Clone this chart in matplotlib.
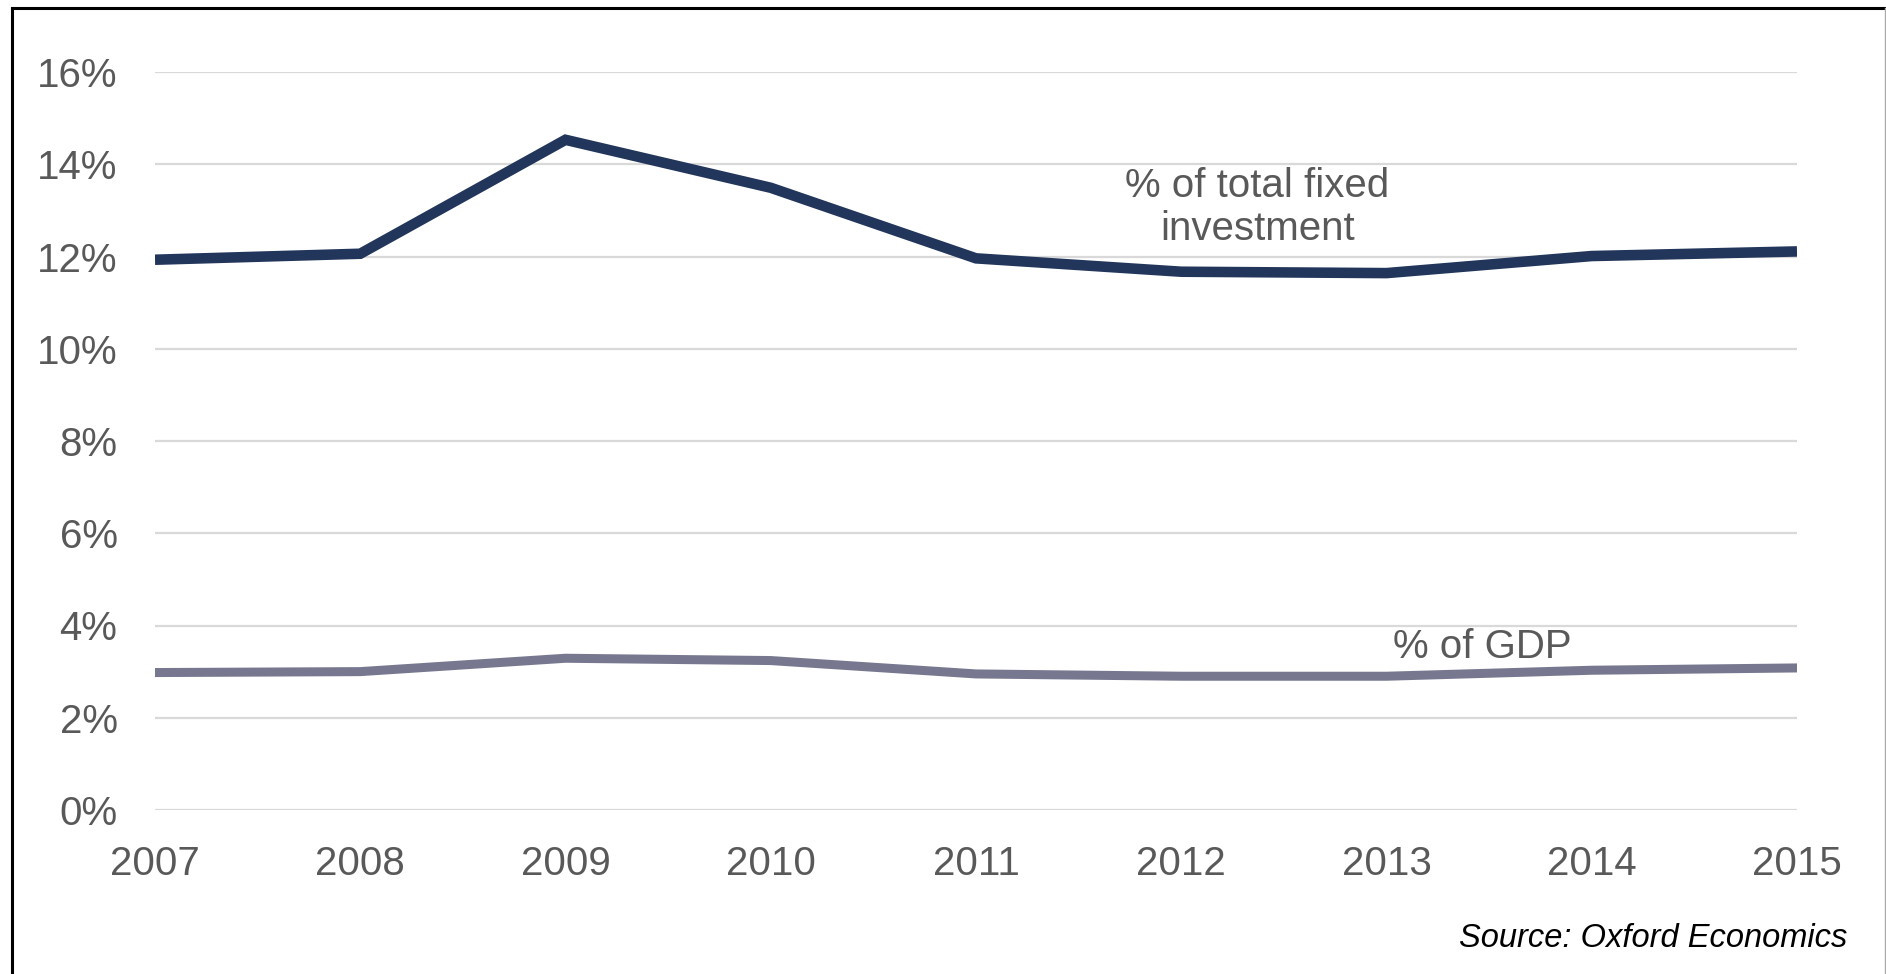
import numpy as np
from matplotlib import pyplot as plt
from matplotlib.lines import Line2D

# Werte
jahre = [2007, 2008, 2009, 2010, 2011, 2012, 2013, 2014, 2015]
anteil_investition = [11.93, 12.06, 14.53, 13.49, 11.96, 11.67, 11.64, 12.01, 12.11]
anteil_bip = [2.98, 3.00, 3.29, 3.24, 2.95, 2.90, 2.90, 3.03, 3.08]
y_ticks = [0, 2, 4, 6, 8, 10, 12, 14, 16]

plt.rcParams['font.family'] = ['Liberation Sans', 'DejaVu Sans']
textfarbe = "#595959"

fig = plt.figure(figsize=(18.86, 9.74), dpi=100)
ax = fig.add_axes([155/1886, 1 - 810/974, (1797 - 155)/1886, (810 - 72)/974])

ax.plot(jahre, anteil_investition, color="#22355a", linewidth=7.6,
        solid_joinstyle="miter", solid_capstyle="butt", zorder=3)
ax.plot(jahre, anteil_bip, color="#77788f", linewidth=6.5,
        solid_capstyle="round", zorder=3)

ax.set_xlim(jahre[0], jahre[-1])
ax.set_ylim(0, 16)
ax.set_xticks(jahre)
ax.set_yticks(y_ticks)
ax.set_yticklabels([f"{t}%" for t in y_ticks])
ax.tick_params(axis="both", length=0, labelsize=29, colors=textfarbe)
ax.tick_params(axis="y", pad=27)
ax.tick_params(axis="x", pad=25)
ax.grid(axis="y", color="#d9d9d9", linewidth=1.6, zorder=0)
for s in ax.spines.values():
    s.set_visible(False)

# Beschriftungen der Linien (baseline = letzte Zeile)
ax.text(2012.37, 12.36, "% of total fixed\ninvestment", fontsize=29, color=textfarbe,
        ha="center", va="baseline", linespacing=1.15)
ax.text(2013.03, 3.3, "% of GDP", fontsize=29, color=textfarbe, ha="left", va="baseline")

fig.text(1847/1886, 1 - 947/974, "Source: Oxford Economics", fontsize=23.5,
         style="italic", color="black", ha="right", va="baseline")

# Rahmen
fig.add_artist(Line2D([12/1886, 12/1886], [0, 1 - 8/974], color="black", linewidth=2.2,
                      transform=fig.transFigure))
fig.add_artist(Line2D([12/1886, 1], [1 - 8/974, 1 - 8/974], color="black", linewidth=2.2,
                      transform=fig.transFigure))
fig.add_artist(Line2D([1884.5/1886, 1884.5/1886], [0, 1 - 8/974], color="#aaaaaa", linewidth=1,
                      transform=fig.transFigure))

fig.savefig("out.png", dpi=100)
